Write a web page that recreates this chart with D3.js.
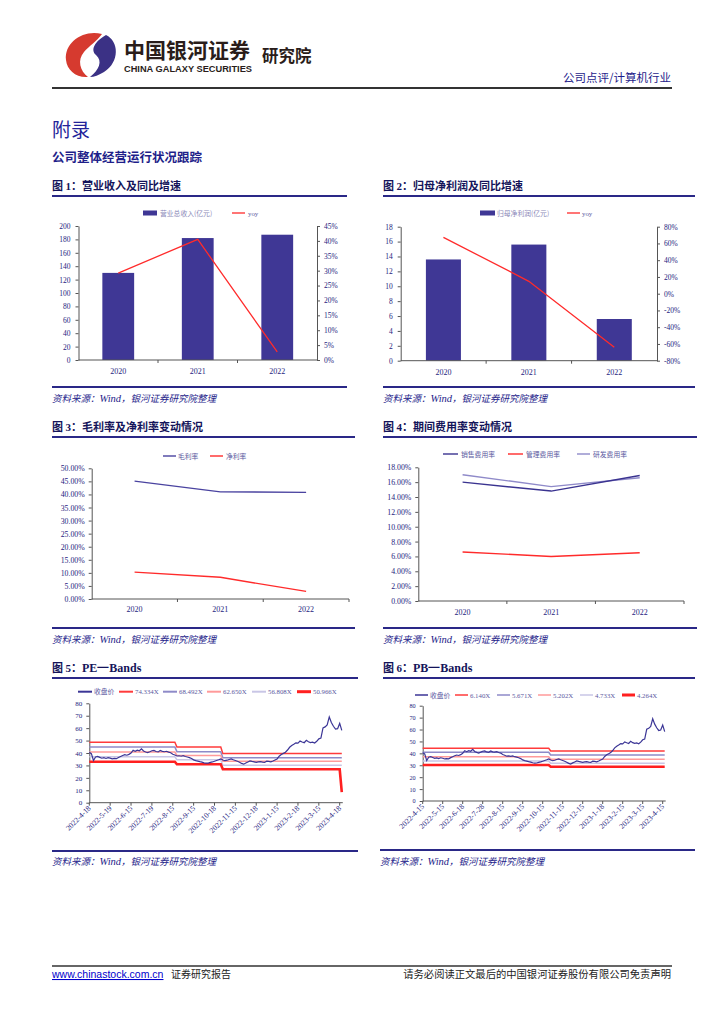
<!DOCTYPE html>
<html><head><meta charset="utf-8">
<script src="https://cdn.jsdelivr.net/npm/d3@7"></script>
<style>body{margin:0;background:#fff}svg{display:block}</style>
</head><body>
<svg id="c" width="724" height="1024"></svg>
<script>
// ---------------- DATA ----------------
const years = ["2020", "2021", "2022"];
const revenue = [130, 182, 187];            // 营业总收入(亿元)
const revenueYoy = [0.292, 0.405, 0.027];   // yoy
const netProfit = [13.6, 15.6, 5.6];        // 归母净利润(亿元)
const netProfitYoy = [0.673, 0.148, -0.64]; // yoy
const grossMargin = [0.451, 0.410, 0.408];  // 毛利率
const netMargin = [0.103, 0.083, 0.029];    // 净利率
const sellingRate = [0.160, 0.148, 0.169];  // 销售费用率
const adminRate = [0.066, 0.060, 0.065];    // 管理费用率
const rdRate = [0.170, 0.154, 0.166];       // 研发费用率

const leftAxisTicks1 = [0,20,40,60,80,100,120,140,160,180,200];
const rightAxisTicks1 = [0,0.05,0.10,0.15,0.20,0.25,0.30,0.35,0.40,0.45];
const leftAxisTicks2 = [0,2,4,6,8,10,12,14,16,18];
const rightAxisTicks2 = [-0.8,-0.6,-0.4,-0.2,0,0.2,0.4,0.6,0.8];
const marginTicks = [0,0.05,0.10,0.15,0.20,0.25,0.30,0.35,0.40,0.45,0.50];
const expenseTicks = [0,0.02,0.04,0.06,0.08,0.10,0.12,0.14,0.16,0.18];
const bandTicks = [0,10,20,30,40,50,60,70,80];

// 收盘价 (daily close, sampled)
const closePrice = [
40.5,39.5,34.0,36.8,37.2,36.5,35.8,36.2,35.6,36.3,
35.9,35.3,35.6,35.4,36.4,37.2,38.0,38.6,38.2,38.9,
40.0,42.2,41.4,42.3,41.8,43.4,41.6,40.8,40.3,41.0,
41.8,42.1,41.2,40.9,42.0,41.3,41.0,41.4,40.7,40.2,
39.0,38.4,37.6,37.8,37.4,37.9,37.2,36.8,36.3,35.6,
34.5,33.9,33.5,33.0,32.6,32.1,31.8,31.9,32.4,32.8,
33.4,34.0,34.6,35.3,34.4,33.8,34.2,34.8,35.3,34.6,
34.0,33.4,32.6,31.6,31.0,32.0,32.8,33.6,33.2,32.9,
32.4,32.8,33.1,32.6,32.4,33.4,33.2,32.9,33.6,34.4,
35.2,37.4,38.8,39.7,40.6,42.4,44.6,46.0,47.0,48.2,
48.0,49.6,48.9,48.3,50.2,49.0,48.4,48.7,48.0,49.4,
51.4,52.0,60.2,61.0,62.6,69.0,64.5,61.5,59.2,59.6,
63.8,58.2];

const peTickLabels = ["2022-4-18","2022-5-19","2022-6-15","2022-7-19","2022-8-15","2022-9-15","2022-10-18","2022-11-15","2022-12-18","2023-1-15","2023-2-18","2023-3-15","2023-4-18"];
const pbTickLabels = ["2022-4-15","2022-5-15","2022-6-18","2022-7-28","2022-8-15","2022-9-15","2022-10-15","2022-11-15","2022-12-15","2023-1-18","2023-2-15","2023-3-15","2023-4-15"];
const tickIndex = [0,10,20,30,40,50,60,70,80,90,100,110,120];

// band segments (index ranges) and levels per segment
const bandSegments = [[0,41],[42,63],[64,121]];
const peBandNames = ["74.334X","68.492X","62.650X","56.808X","50.966X"];
const peBandLevels = [
  [48.6, 44.8, 39.5],
  [44.8, 41.1, 36.2],
  [40.8, 38.0, 33.3],
  [37.0, 34.6, 30.1],
  [33.0, 30.9, 26.9]];
const peBandLastValue = [39.5, 36.2, 33.3, 30.1, 8.5];
const pbBandNames = ["6.140X","5.671X","5.202X","4.733X","4.264X"];
const pbBandLevels = [
  [44.2, 44.2, 42.0],
  [40.9, 40.9, 38.6],
  [37.2, 37.2, 35.0],
  [33.6, 33.6, 31.6],
  [30.2, 30.2, 28.8]];

// ---------------- STYLE ----------------
const svg = d3.select("#c");
const CJK = "'Noto Sans CJK SC','Noto Sans CJK JP',sans-serif";
const SERIF = "'Liberation Serif','DejaVu Serif',serif";
const NAVY = "#2a2887";
const TXT = "#1e1c7e";
const BAR = "#3f3795";
const RED = "#ff2b2b";
const AXIS = "#555";

// ---------------- HEADER ----------------
const logo = svg.append("g");
logo.append("path").attr("fill", "#d63a2f")
  .attr("d", "M102 34 C84 29 64 42 66 60 C67 70 76 78 88 77 C80 71 77 60 84 52 C89 46 97 41 102 34 Z");
logo.append("path").attr("fill", "#3b3185")
  .attr("d", "M106 35 C119 41 120 62 104 72 C99 75 94 77 90 77 C99 70 103 61 96 55 C90 50 95 41 106 35 Z");
svg.append("text").attr("x", 124).attr("y", 58).attr("font-family", CJK).attr("font-weight", 700)
  .attr("font-size", 21).attr("fill", "#2a1d1a").text("中国银河证券");
svg.append("text").attr("x", 124).attr("y", 72).attr("font-family", "'Liberation Sans',Arial,sans-serif")
  .attr("font-weight", 700).attr("font-size", 9.5).attr("fill", "#2a1d1a")
  .attr("textLength", 128).attr("lengthAdjust", "spacingAndGlyphs").text("CHINA GALAXY SECURITIES");
svg.append("text").attr("x", 262).attr("y", 62).attr("font-family", CJK).attr("font-weight", 700)
  .attr("font-size", 16.5).attr("fill", "#2a1d1a").text("研究院");
svg.append("text").attr("x", 671).attr("y", 82).attr("text-anchor", "end").attr("font-family", CJK)
  .attr("font-size", 11.5).attr("fill", "#1e1c8a").text("公司点评/计算机行业");
svg.append("line").attr("x1", 52).attr("x2", 672).attr("y1", 88).attr("y2", 88)
  .attr("stroke", "#333").attr("stroke-width", 2);
svg.append("text").attr("x", 52).attr("y", 137).attr("font-family", CJK).attr("font-size", 19)
  .attr("fill", "#23239a").text("附录");
svg.append("text").attr("x", 52).attr("y", 162).attr("font-family", CJK).attr("font-weight", 700)
  .attr("font-size", 12.5).attr("fill", "#1f1f8a").text("公司整体经营运行状况跟踪");

// ---------------- FOOTER ----------------
svg.append("line").attr("x1", 52).attr("x2", 672).attr("y1", 966).attr("y2", 966)
  .attr("stroke", "#333").attr("stroke-width", 1.5);
svg.append("text").attr("x", 52).attr("y", 978).attr("font-family", "'Liberation Sans',Arial,sans-serif")
  .attr("font-size", 10.5).attr("fill", "#0000cc").attr("text-decoration", "underline").text("www.chinastock.com.cn");
svg.append("text").attr("x", 171).attr("y", 978).attr("font-family", CJK).attr("font-size", 10)
  .attr("fill", "#222").text("证券研究报告");
svg.append("text").attr("x", 671).attr("y", 978).attr("text-anchor", "end").attr("font-family", CJK)
  .attr("font-size", 10.3).attr("fill", "#222").text("请务必阅读正文最后的中国银河证券股份有限公司免责声明");

// ---------------- HELPERS ----------------
function titleBlock(x0, x1, yText, yLine, num, title, latin) {
  const t = svg.append("text").attr("x", x0).attr("y", yText).attr("font-family", CJK)
    .attr("font-weight", 700).attr("font-size", 11).attr("fill", "#14145a");
  t.append("tspan").text("图 ");
  t.append("tspan").attr("font-family", SERIF).text(num);
  t.append("tspan").text("：");
  if (latin) t.append("tspan").attr("font-family", SERIF).attr("font-size", 12).text(title);
  else t.append("tspan").text(title);
  svg.append("line").attr("x1", x0).attr("x2", x1).attr("y1", yLine).attr("y2", yLine)
    .attr("stroke", NAVY).attr("stroke-width", 2);
}
function sourceBlock(x0, x1, yLine, yText) {
  svg.append("line").attr("x1", x0).attr("x2", x1).attr("y1", yLine).attr("y2", yLine)
    .attr("stroke", NAVY).attr("stroke-width", 2);
  const t = svg.append("text").attr("x", x0).attr("y", yText).attr("font-family", CJK)
    .attr("font-style", "italic").attr("font-size", 9.5).attr("fill", "#25238a");
  t.append("tspan").text("资料来源：");
  t.append("tspan").attr("font-family", SERIF).attr("font-size", 10.5).text("Wind");
  t.append("tspan").text("，银河证券研究院整理");
}
function styleAxis(g, size) {
  g.select(".domain").attr("stroke", AXIS).attr("stroke-width", 1);
  g.selectAll(".tick line").attr("stroke", AXIS);
  g.selectAll(".tick text").attr("font-family", SERIF).attr("font-size", size || 7.5).attr("fill", TXT);
}
function legendLine(x, y, w, color, sw, label, lx) {
  svg.append("line").attr("x1", x).attr("x2", x + w).attr("y1", y).attr("y2", y)
    .attr("stroke", color).attr("stroke-width", sw);
  svg.append("text").attr("x", lx).attr("y", y + 2.5).attr("font-family", /X$/.test(label) || label === "yoy" ? SERIF : CJK)
    .attr("font-size", 6.8).attr("fill", "#5a58a0").text(label);
}
function legendRect(x, y, w, label, lx) {
  svg.append("rect").attr("x", x).attr("y", y - 2.5).attr("width", w).attr("height", 5).attr("fill", BAR);
  svg.append("text").attr("x", lx).attr("y", y + 2.5).attr("font-family", CJK)
    .attr("font-size", 6.8).attr("fill", "#8a88b8").text(label);
}

function barLineChart(o) {
  const x = d3.scaleBand().domain(years).range([o.left, o.right]);
  const y = d3.scaleLinear().domain(o.yDomain).range([o.bottom, o.top]);
  const y2 = d3.scaleLinear().domain(o.y2Domain).range([o.bottom, o.top]);
  const bw = x.bandwidth() * o.barFrac;
  svg.append("g").selectAll("rect").data(o.bars).join("rect")
    .attr("x", (d, i) => x(years[i]) + (x.bandwidth() - bw) / 2)
    .attr("width", bw).attr("y", d => y(d)).attr("height", d => y(o.yDomain[0]) - y(d))
    .attr("fill", BAR);
  const gl = svg.append("g").attr("transform", `translate(${o.left},0)`)
    .call(d3.axisLeft(y).tickValues(o.yTicks).tickSize(3).tickPadding(5).tickSizeOuter(0));
  styleAxis(gl);
  const gr = svg.append("g").attr("transform", `translate(${o.right},0)`)
    .call(d3.axisRight(y2).tickValues(o.y2Ticks).tickSize(3).tickPadding(4).tickSizeOuter(0).tickFormat(d3.format(".0%")));
  styleAxis(gr);
  gr.selectAll(".tick text").text(d => Math.round(d * 100) + "%");
  // x axis
  svg.append("line").attr("x1", o.left).attr("x2", o.right).attr("y1", o.bottom).attr("y2", o.bottom)
    .attr("stroke", AXIS);
  svg.append("g").selectAll("line").data([1, 2]).join("line")
    .attr("x1", i => o.left + i * x.bandwidth()).attr("x2", i => o.left + i * x.bandwidth())
    .attr("y1", o.bottom).attr("y2", o.bottom + 3).attr("stroke", AXIS);
  svg.append("g").selectAll("text").data(years).join("text")
    .attr("x", d => x(d) + x.bandwidth() / 2).attr("y", o.bottom + 14).attr("text-anchor", "middle")
    .attr("font-family", SERIF).attr("font-size", 8).attr("fill", TXT).text(d => d);
  const line = d3.line().x((d, i) => x(years[i]) + x.bandwidth() / 2).y(d => y2(d));
  svg.append("path").datum(o.line).attr("d", line).attr("fill", "none")
    .attr("stroke", RED).attr("stroke-width", 1.3);
}

function catLineChart(o) {
  const x = d3.scaleBand().domain(years).range([o.left, o.right]);
  const y = d3.scaleLinear().domain(o.yDomain).range([o.bottom, o.top]);
  const gl = svg.append("g").attr("transform", `translate(${o.left},0)`)
    .call(d3.axisLeft(y).tickValues(o.yTicks).tickSize(3).tickPadding(4).tickSizeOuter(0).tickFormat(d3.format(".2%")));
  styleAxis(gl, 7.8);
  svg.append("line").attr("x1", o.left).attr("x2", o.right).attr("y1", o.bottom).attr("y2", o.bottom)
    .attr("stroke", AXIS);
  svg.append("g").selectAll("line").data([1, 2, 3]).join("line")
    .attr("x1", i => o.left + i * x.bandwidth()).attr("x2", i => o.left + i * x.bandwidth())
    .attr("y1", o.bottom).attr("y2", o.bottom + 3).attr("stroke", AXIS);
  svg.append("g").selectAll("text").data(years).join("text")
    .attr("x", d => x(d) + x.bandwidth() / 2).attr("y", o.bottom + o.labelDy).attr("text-anchor", "middle")
    .attr("font-family", SERIF).attr("font-size", 8).attr("fill", TXT).text(d => d);
  const line = d3.line().x((d, i) => x(years[i]) + x.bandwidth() / 2).y(d => y(d));
  o.series.forEach(s => {
    svg.append("path").datum(s.values).attr("d", line).attr("fill", "none")
      .attr("stroke", s.color).attr("stroke-width", 1.4);
  });
}

function bandChart(o) {
  const x = d3.scaleLinear().domain([0, 120]).range([o.left, o.tickEnd]);
  const y = d3.scaleLinear().domain([0, 80]).range([o.bottom, o.top]);
  const gl = svg.append("g").attr("transform", `translate(${o.left},0)`)
    .call(d3.axisLeft(y).tickValues(bandTicks).tickSize(3).tickPadding(4).tickSizeOuter(0));
  styleAxis(gl, o.yFont);
  const xEnd = x(closePrice.length - 1) + 1;
  svg.append("line").attr("x1", o.left).attr("x2", xEnd).attr("y1", o.bottom).attr("y2", o.bottom).attr("stroke", AXIS);
  svg.append("g").selectAll("line").data(tickIndex).join("line")
    .attr("x1", d => x(d)).attr("x2", d => x(d)).attr("y1", o.bottom).attr("y2", o.bottom + 3).attr("stroke", AXIS);
  svg.append("g").selectAll("text").data(o.tickLabels).join("text")
    .attr("transform", (d, i) => `translate(${x(tickIndex[i]) + 2},${o.bottom + 6}) rotate(-45)`)
    .attr("text-anchor", "end").attr("font-family", SERIF).attr("font-size", 7.6).attr("fill", TXT).text(d => d);
  const line = d3.line().x(d => x(d[0])).y(d => y(d[1]));
  o.bands.forEach((b, k) => {
    const pts = [];
    bandSegments.forEach((seg, j) => {
      pts.push([seg[0], b.levels[j]]);
      pts.push([j === bandSegments.length - 1 ? seg[1] - 1 : seg[1], b.levels[j]]);
    });
    pts.push([bandSegments[bandSegments.length - 1][1], b.last !== undefined ? b.last : b.levels[b.levels.length - 1]]);
    svg.append("path").datum(pts).attr("d", line).attr("fill", "none")
      .attr("stroke", b.color).attr("stroke-width", b.width);
  });
  svg.append("path").datum(closePrice.map((v, i) => [i, v])).attr("d", line).attr("fill", "none")
    .attr("stroke", "#3b3596").attr("stroke-width", 1.2);
}

// ---------------- CHART 1 ----------------
titleBlock(52, 347, 190, 196, "1", "营业收入及同比增速");
legendRect(143, 213, 14, "营业总收入(亿元)", 160);
legendLine(232, 213, 13, RED, 1.3, "yoy", 248);
barLineChart({ left: 78.5, right: 317, top: 226, bottom: 360, yDomain: [0, 200], y2Domain: [0, 0.45],
  yTicks: leftAxisTicks1, y2Ticks: rightAxisTicks1, bars: revenue, line: revenueYoy, barFrac: 0.40 });
sourceBlock(52, 347, 387, 402);

// ---------------- CHART 2 ----------------
titleBlock(383, 695, 190, 196, "2", "归母净利润及同比增速");
legendRect(480, 213, 15, "归母净利润(亿元)", 497);
legendLine(567, 213, 13, RED, 1.3, "yoy", 582);
barLineChart({ left: 400.7, right: 657, top: 226.7, bottom: 360.7, yDomain: [0, 18], y2Domain: [-0.8, 0.8],
  yTicks: leftAxisTicks2, y2Ticks: rightAxisTicks2, bars: netProfit, line: netProfitYoy, barFrac: 0.41 });
sourceBlock(383, 695, 387, 402);

// ---------------- CHART 3 ----------------
titleBlock(52, 355, 431, 437, "3", "毛利率及净利率变动情况");
legendLine(163, 456, 13, "#4a43a0", 1.4, "毛利率", 178);
legendLine(210, 456, 13, RED, 1.4, "净利率", 226);
catLineChart({ left: 91.7, right: 349, top: 468.3, bottom: 599, yDomain: [0, 0.5], yTicks: marginTicks, labelDy: 13,
  series: [{ values: grossMargin, color: "#4a43a0" }, { values: netMargin, color: RED }] });
sourceBlock(52, 355, 628, 643);

// ---------------- CHART 4 ----------------
titleBlock(383, 697, 431, 437, "4", "期间费用率变动情况");
legendLine(443, 454, 15, "#3a3390", 1.4, "销售费用率", 461);
legendLine(508, 454, 15, RED, 1.4, "管理费用率", 526);
legendLine(577, 454, 13, "#8f8ac9", 1.4, "研发费用率", 593);
catLineChart({ left: 418.3, right: 684, top: 467.3, bottom: 601, yDomain: [0, 0.18], yTicks: expenseTicks, labelDy: 14,
  series: [{ values: rdRate, color: "#8f8ac9" }, { values: sellingRate, color: "#3a3390" }, { values: adminRate, color: RED }] });
sourceBlock(383, 697, 628, 643);

// ---------------- CHART 5 ----------------
const peColors = ["#ff3b3b", "#8e8ac8", "#ff9a9a", "#c9c6e6", "#ff2020"];
const peWidths = [1.5, 1.5, 1.5, 1.5, 2.6];
titleBlock(52, 358, 672, 678, "5", "PE一Bands", true);
legendLine(78, 691.7, 14, "#3b3596", 2, "收盘价", 94);
peBandNames.forEach((n, i) => {
  const xs = [119, 163, 207, 252, 297][i];
  legendLine(xs, 691.7, 14, peColors[i], i === 4 ? 3 : 2, n, xs + 16);
});
bandChart({ left: 89.3, tickEnd: 339.7, top: 703.3, bottom: 802.7, yFont: 7, tickLabels: peTickLabels,
  bands: peBandNames.map((n, i) => ({ levels: peBandLevels[i], last: peBandLastValue[i], color: peColors[i], width: peWidths[i] })) });
sourceBlock(52, 358, 851, 865);

// ---------------- CHART 6 ----------------
titleBlock(383, 695, 672, 678, "6", "PB一Bands", true);
legendLine(415, 695, 13, "#3b3596", 1.5, "收盘价", 430);
pbBandNames.forEach((n, i) => {
  const xs = [455, 497, 538, 580, 622][i];
  legendLine(xs, 695, 13, peColors[i], i === 4 ? 3 : 1.5, n, xs + 15);
});
bandChart({ left: 422.7, tickEnd: 662.7, top: 705.7, bottom: 801, yFont: 6.2, tickLabels: pbTickLabels,
  bands: pbBandNames.map((n, i) => ({ levels: pbBandLevels[i], color: peColors[i], width: peWidths[i] })) });
sourceBlock(380, 695, 850, 865);
</script>
</body></html>
